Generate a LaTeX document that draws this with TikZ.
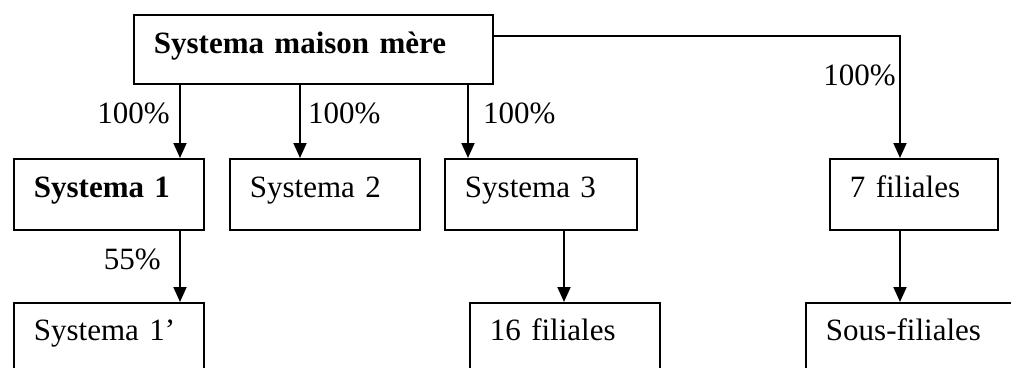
\documentclass[tikz,border=0pt]{standalone}
\usepackage{fontspec}
\setmainfont{Liberation Serif}
\usetikzlibrary{arrows.meta}
\tikzset{
  orgbox/.style={draw, line width=1.9pt, anchor=north west, inner ysep=0pt, inner xsep=20pt,
    align=left, text width=#1, text height=39pt, text depth=32pt},
  conn/.style={line width=1.9pt},
  arr/.style={conn, -{Triangle[length=15pt,width=13pt]}},
  pct/.style={inner sep=0pt}
}
\begin{document}
\begin{tikzpicture}[x=1pt,y=-1pt,font=\fontsize{31}{36}\selectfont]
\useasboundingbox (0,0) rectangle (1011,367);
\clip (0,0) rectangle (1011,367);
% boxes
\node[orgbox=319pt, text depth=30pt] (mere) at (133,14) {\textbf{Systema maison mère}};
\node[orgbox=150pt] (s1) at (13,158) {\textbf{Systema 1}};
\node[orgbox=150pt] (s2) at (229,158) {Systema 2};
\node[orgbox=152pt] (s3) at (444,158) {Systema 3};
\node[orgbox=128pt] (f7) at (829,158) {7 filiales};
\node[orgbox=150pt, text height=38pt, text depth=40pt] (s1p) at (13,302) {Systema 1’};
\node[orgbox=150pt, text height=38pt, text depth=40pt] (f16) at (469,302) {16 filiales};
\node[orgbox=175pt, text height=38pt, text depth=40pt] (sous) at (805,302) {Sous-filiales};
% connectors
\draw[arr] (mere.south -| 180,0) -- (s1.north -| 180,0);
\draw[arr] (mere.south -| 300,0) -- (s2.north -| 300,0);
\draw[arr] (mere.south -| 468,0) -- (s3.north -| 468,0);
\draw[arr] (mere.east |- 0,36) -| (f7.north -| 900,0);
\draw[arr] (s1.south -| 180,0) -- (s1p.north -| 180,0);
\draw[arr] (s3.south -| 564,0) -- (f16.north -| 564,0);
\draw[arr] (f7.south -| 900,0) -- (sous.north -| 900,0);
% labels
\node[pct, anchor=base east] (l1) at (170,123) {100\%};
\node[pct, anchor=base west] (l2) at (308,123) {100\%};
\node[pct, anchor=base west] (l3) at (483,123) {100\%};
\node[pct, anchor=base east] (l4) at (896,85) {100\%};
\node[pct, anchor=base east] (l5) at (161,269) {55\%};
\end{tikzpicture}
\end{document}
